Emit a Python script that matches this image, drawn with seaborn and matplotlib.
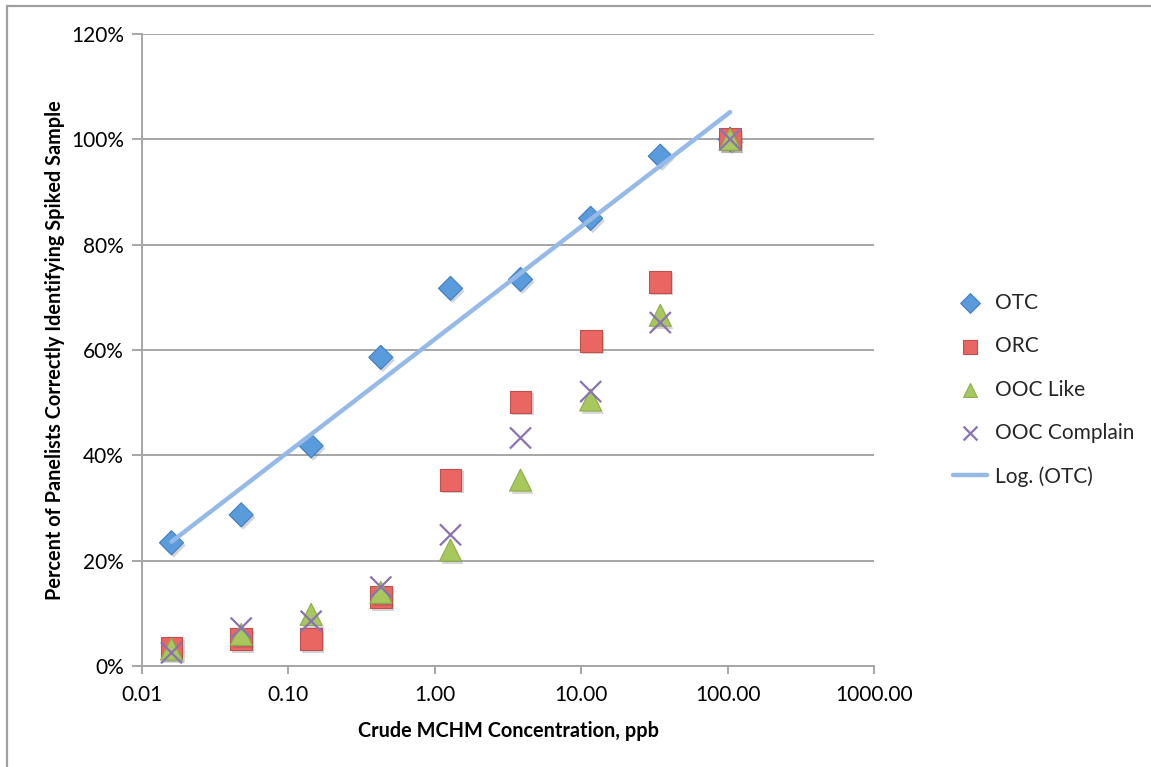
import numpy as np
import pandas as pd
import seaborn as sns
import matplotlib
matplotlib.use("Agg")
import matplotlib.pyplot as plt
import matplotlib.patheffects as pe
from matplotlib.patches import Rectangle
from matplotlib.ticker import FixedLocator, FixedFormatter, NullLocator

# Crude MCHM concentration (ppb) and percent of panelists correct
concentration = [0.0159, 0.0476, 0.143, 0.428, 1.28, 3.85, 11.6, 34.7, 104.0]
otc = [23.4, 28.7, 41.8, 58.6, 71.7, 73.4, 85.0, 96.8, 100.0]
orc = [3.4, 5.1, 5.1, 13.1, 35.4, 50.2, 61.8, 73.0, 100.0]
ooc_like = [3.2, 6.0, 9.8, 14.0, 22.0, 35.3, 50.5, 66.6, 100.0]
ooc_complain = [2.5, 7.2, 8.5, 15.0, 24.9, 43.3, 52.1, 65.2, 100.0]

x_ticks = [0.01, 0.1, 1, 10, 100, 1000]
x_tick_labels = ["0.01", "0.10", "1.00", "10.00", "100.00", "1000.00"]
y_ticks = [0, 20, 40, 60, 80, 100, 120]
y_tick_labels = ["0%", "20%", "40%", "60%", "80%", "100%", "120%"]

sns.set_theme(style="white")
plt.rcParams["font.family"] = ["Lato", "DejaVu Sans"]

fig = plt.figure(figsize=(11.51, 7.67), dpi=100)
ax = fig.add_axes([142 / 1151, 1 - 666 / 767, (874 - 142) / 1151, (666 - 34) / 767])

df = pd.DataFrame({
    "conc": concentration,
    "OTC": otc,
    "ORC": orc,
    "OOC Like": ooc_like,
    "OOC Complain": ooc_complain,
})

shadow = [pe.SimplePatchShadow(offset=(1.5, -2), alpha=0.25, shadow_rgbFace="#555555"),
          pe.Normal()]

series_styles = [
    ("OTC", "D", 150, "#5A9BDB", "#3F7DC4", 0.8),
    ("ORC", "s", 250, "#EA6662", "#C0504D", 0.8),
    ("OOC Like", "^", 250, "#A8C85E", "#8CAF48", 0.8),
    ("OOC Complain", "x", 230, "#8B72B0", "#8B72B0", 1.6),
]
for name, marker, size, face, edge, lw in series_styles:
    sns.scatterplot(data=df, x="conc", y=name, ax=ax, marker=marker, s=size,
                    color=face, edgecolor=edge, linewidth=lw, label=name,
                    zorder=3)
    ax.collections[-1].set_path_effects(shadow)

# Logarithmic trendline fitted to the OTC series
slope, intercept = np.polyfit(np.log(concentration), otc, 1)
x_fit = np.geomspace(min(concentration), max(concentration), 100)
y_fit = slope * np.log(x_fit) + intercept
sns.lineplot(x=x_fit, y=y_fit, ax=ax, color="#95B9E8", linewidth=3.2,
             label="Log. (OTC)", zorder=4, solid_capstyle="round")

ax.set_xscale("log")
ax.set_xlim(0.01, 1000)
ax.set_ylim(0, 120)
ax.xaxis.set_major_locator(FixedLocator(x_ticks))
ax.xaxis.set_major_formatter(FixedFormatter(x_tick_labels))
ax.xaxis.set_minor_locator(NullLocator())
ax.yaxis.set_major_locator(FixedLocator(y_ticks))
ax.yaxis.set_major_formatter(FixedFormatter(y_tick_labels))

grid_color = "#A6A6A6"
ax.grid(axis="y", color=grid_color, linewidth=1.4, zorder=0)
ax.grid(axis="x", visible=False)
for side in ["top", "right"]:
    ax.spines[side].set_visible(False)
for side in ["left", "bottom"]:
    ax.spines[side].set_color(grid_color)
    ax.spines[side].set_linewidth(1.4)
ax.tick_params(axis="y", which="major", left=True, length=7, width=1.4,
               color=grid_color, labelsize=15, pad=6, labelcolor="black")
ax.tick_params(axis="x", which="major", bottom=True, length=6, width=1.4,
               color=grid_color, labelsize=15, pad=8, labelcolor="black")

ax.set_xlabel("Crude MCHM Concentration, ppb", fontsize=14.3, fontweight="bold",
              labelpad=11, color="black")
ax.set_ylabel("Percent of Panelists Correctly Identifying Spiked Sample",
              fontsize=14.3, fontweight="bold", labelpad=4, color="black")

handles, labels = ax.get_legend_handles_labels()
leg = ax.legend(handles, labels, loc="center left", bbox_to_anchor=(1.097, 0.437),
                frameon=False, fontsize=15, labelspacing=1.12, handlelength=1.6,
                handletextpad=0.4, borderaxespad=0)
for h in leg.legend_handles:
    if hasattr(h, "set_sizes"):
        h.set_sizes([100])
    h.set_path_effects([])

# Thin outer frame of the chart area
fig.patches.append(Rectangle((7 / 1151, -0.1), 1.2, 1.1 - 6 / 767,
                             transform=fig.transFigure, fill=False,
                             edgecolor="#A0A0A0", linewidth=1.6, zorder=-1))

fig.savefig("out.png", dpi=100)
